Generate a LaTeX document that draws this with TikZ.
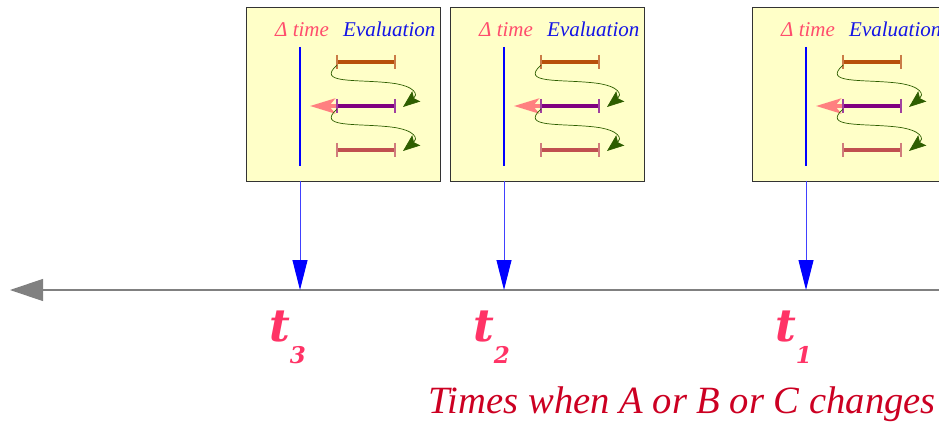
\documentclass[tikz,border=0pt]{standalone}
\usepackage{fontspec}
\setmainfont{Liberation Serif}
\newfontfamily\tfont{DejaVu Serif}
\newcommand{\tsubfont}{\fontsize{23}{28}\selectfont\tfont\bfseries\itshape}
\usepackage{xcolor}
\usetikzlibrary{arrows.meta}
\definecolor{boxfill}{HTML}{FFFFC8}
\definecolor{tpink}{HTML}{FF3366}
\definecolor{dtpink}{HTML}{FF4D6D}
\definecolor{evblue}{HTML}{1414E6}
\definecolor{barorange}{HTML}{B8500A}
\definecolor{barpurple}{HTML}{800080}
\definecolor{barrose}{HTML}{C05050}
\definecolor{backpink}{HTML}{FF8080}
\definecolor{loopgreen}{HTML}{2E5E00}
\definecolor{notered}{HTML}{CC0022}
\tikzset{
  evalbox/.style={draw=black!80, line width=0.9pt, fill=boxfill, minimum width=194pt, minimum height=174pt, inner sep=0pt, anchor=north west},
  dtlabel/.style={anchor=base west, inner sep=0pt, text=dtpink, font=\fontsize{21}{24}\selectfont\itshape},
  evlabel/.style={anchor=base west, inner sep=0pt, text=evblue, font=\fontsize{21}{24}\selectfont\itshape},
  dline/.style={line width=1.2pt, blue},
  barline/.style={line width=4pt, draw=#1},
  bartick/.style={line width=1.4pt, draw=#1!75!white},
  backarrow/.style={line width=4pt, backpink, -{Stealth[length=25pt,width=15pt,inset=6pt]}},
  looparrow/.style={line width=0.7pt, loopgreen, -{Stealth[length=17pt,width=13pt,inset=3pt]}},
  droparrow/.style={line width=1pt, blue!75, -{Triangle[length=30pt,width=15pt,color=blue]}},
  axisline/.style={line width=1.2pt, black!50, -{Triangle[length=33pt,width=22pt]}},
  tlabel/.style={anchor=base west, inner sep=0pt, text=tpink, font=\fontsize{45}{48}\selectfont\tfont\bfseries\itshape},
  notelabel/.style={anchor=base east, inner sep=0pt, text=notered, font=\fontsize{38.6}{42}\selectfont\itshape},
}
\begin{document}
\begin{tikzpicture}[x=1pt,y=-1pt]
\useasboundingbox (0,0) rectangle (939,422);
\coordinate (axisR) at (939,290);
\coordinate (axisL) at (10,290);
\draw[axisline] (axisR) -- (axisL);
\foreach \bx/\k in {246/3, 450/2, 752/1} {
  \begin{scope}[shift={(\bx,0)}]
    \node[evalbox] (box\k) at (0,7) {};
    \node[dtlabel] (dt\k) at (29,37) {Δ time};
    \node[evlabel] (ev\k) at (97,37) {Evaluation};
    \draw[dline] (54,47) -- (54,166);
    \draw[backarrow] (92,106) -- (64,106);
    \draw[barline=barorange] (91,62) -- (149,62);
    \draw[bartick=barorange] (91,55) -- (91,69) (149,55) -- (149,69);
    \draw[barline=barpurple] (91,106) -- (149,106);
    \draw[bartick=barpurple] (91,99) -- (91,113) (149,99) -- (149,113);
    \draw[barline=barrose] (91,150) -- (149,150);
    \draw[bartick=barrose] (91,143) -- (91,157) (149,143) -- (149,157);
    \draw[looparrow] (91,65) .. controls (70,84) and (110,79) .. (145,83)
      .. controls (170,86) and (172,95) .. (157,107);
    \draw[looparrow] (91,109) .. controls (70,128) and (110,123) .. (145,127)
      .. controls (170,130) and (172,139) .. (157,151);
    \coordinate (top\k) at (54,181);
    \coordinate (tick\k) at (54,290);
    \draw[droparrow] (top\k) -- (tick\k);
    \node[tlabel] (t\k) at (23,341) {t\raisebox{-22pt}{\tsubfont\k}};
  \end{scope}
}
\node[notelabel] (note) at (936,413) {Times when A or B or C changes};
\end{tikzpicture}
\end{document}
